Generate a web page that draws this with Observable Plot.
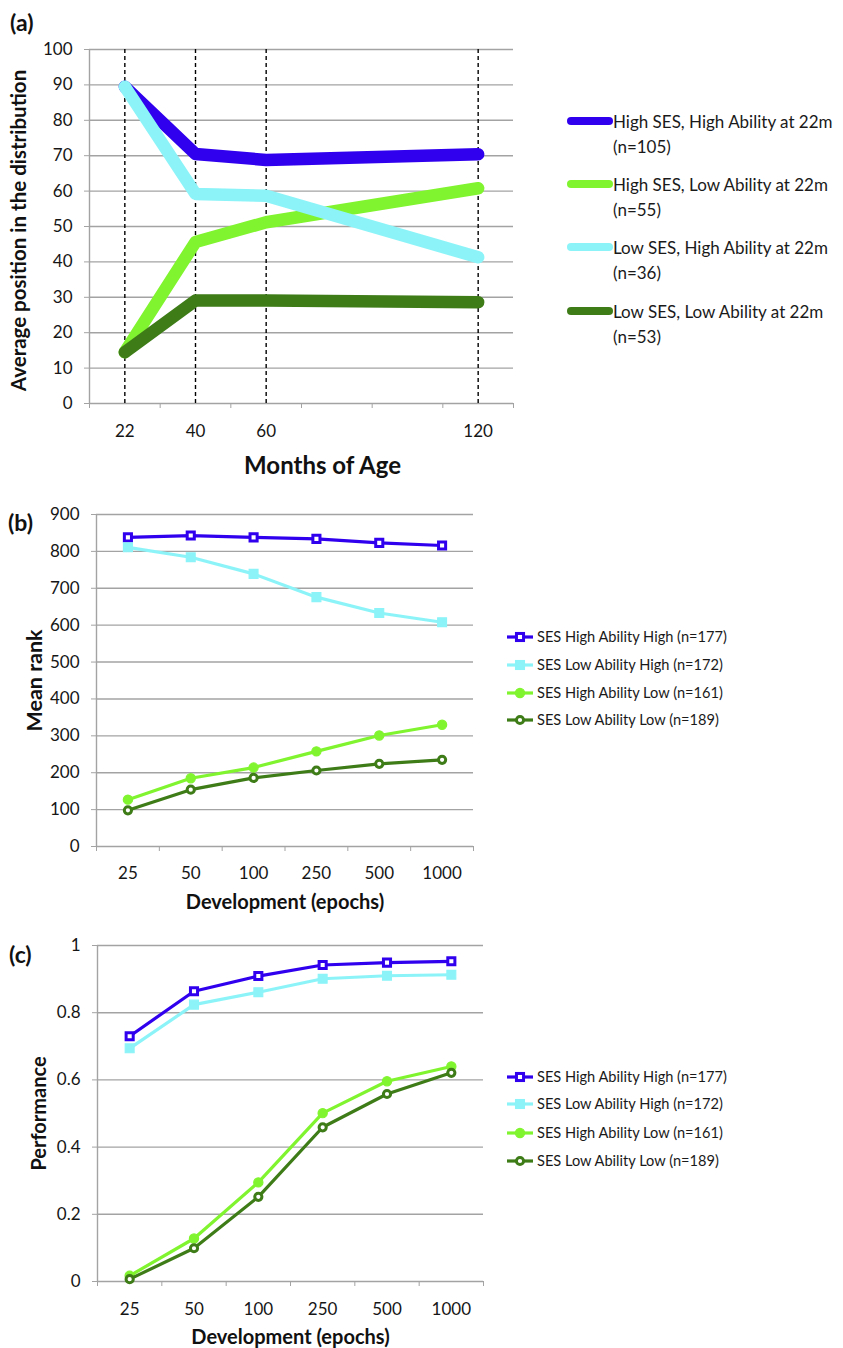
<!DOCTYPE html>
<html>
<head>
<meta charset="utf-8">
<script src="https://cdn.jsdelivr.net/npm/d3@7"></script>
<script src="https://cdn.jsdelivr.net/npm/@observablehq/plot@0.6"></script>
<style>
  html, body { margin: 0; padding: 0; background: #fff; overflow: hidden; }
  #page { position: relative; width: 843px; height: 1348px; font-family: Lato, "Open Sans", sans-serif; color: #1a1a1a; }
  .panel { position: absolute; left: 0; }
  .plabel { position: absolute; font-weight: bold; font-size: 23px; line-height: 1; color: #111; }
  .legend { position: absolute; color: #1a1a1a; }
  .entry { position: absolute; left: 0; white-space: nowrap; }
  .entry svg { position: absolute; left: 0; }
</style>
</head>
<body>
<div id="page"></div>
<script>
// ---------- Panel (a) data ----------
const xSlotsA = ["22", "40", "60", "", "", "120"];          // category slots on the x axis
const monthsA = ["22", "40", "60", "120"];                   // measured ages
const yTicksA = [0, 10, 20, 30, 40, 50, 60, 70, 80, 90, 100];
const legendA = ["High SES, High Ability at 22m", "High SES, Low Ability at 22m", "Low SES, High Ability at 22m", "Low SES, Low Ability at 22m"];
const nA = ["(n=105)", "(n=55)", "(n=36)", "(n=53)"];
const highSesHighAbilityA = [89.5, 70.5, 68.8, 70.4];
const highSesLowAbilityA  = [14.5, 45.6, 51.2, 60.8];
const lowSesHighAbilityA  = [89.5, 59.2, 58.7, 41.3];
const lowSesLowAbilityA   = [14.5, 29.1, 29.1, 28.6];

// ---------- Panels (b), (c) data ----------
const epochs = ["25", "50", "100", "250", "500", "1000"];
const yTicksB = [0, 100, 200, 300, 400, 500, 600, 700, 800, 900];
const yTicksC = [0, 0.2, 0.4, 0.6, 0.8, 1];
const legendBC = ["SES High Ability High (n=177)", "SES Low Ability High (n=172)", "SES High Ability Low (n=161)", "SES Low Ability Low (n=189)"];
const highHighB = [838, 843, 838, 834, 823, 816];
const lowHighB  = [811, 784, 739, 676, 633, 608];
const highLowB  = [127, 185, 214, 258, 301, 330];
const lowLowB   = [98, 154, 186, 206, 224, 235];
const highHighC = [0.730, 0.864, 0.909, 0.942, 0.949, 0.953];
const lowHighC  = [0.694, 0.824, 0.861, 0.901, 0.910, 0.913];
const highLowC  = [0.017, 0.128, 0.295, 0.501, 0.596, 0.640];
const lowLowC   = [0.007, 0.099, 0.252, 0.459, 0.558, 0.621];

// ---------- styles ----------
const BLUE = "#3000ee", CYAN = "#8cf4f8", LGREEN = "#80f42e", DGREEN = "#3e7c18";
const GRID = "#a3a3a3", TEXT = "#161616";
const FONT = "Lato, 'Open Sans', sans-serif";

const page = document.getElementById("page");
const slotX = (slots, label) => slots.indexOf(label) + 0.5;

function place(el, top, left) {
  el.classList.add("panel");
  el.style.top = top + "px";
  el.style.left = left + "px";
  page.appendChild(el);
}
function addLabel(txt, left, top) {
  const d = document.createElement("div");
  d.className = "plabel"; d.textContent = txt;
  d.style.left = left + "px"; d.style.top = top + "px";
  page.appendChild(d);
}

// ---------- Panel (a) ----------
const seriesA = [
  {vals: highSesHighAbilityA, color: BLUE},
  {vals: highSesLowAbilityA, color: LGREEN},
  {vals: lowSesHighAbilityA, color: CYAN},
  {vals: lowSesLowAbilityA, color: DGREEN}
];
const marksA = [
  Plot.gridY(yTicksA, {stroke: GRID, strokeOpacity: 1, strokeWidth: 1.4}),
  Plot.ruleX([0], {y1: 0, y2: 100, stroke: GRID, strokeWidth: 1.4}),
  Plot.ruleX(monthsA, {x: m => slotX(xSlotsA, m), y1: 0, y2: 100, stroke: "#000", strokeWidth: 1.4, strokeDasharray: "4,3"}),
  ...seriesA.map(s => Plot.line(monthsA.map((m, i) => ({x: slotX(xSlotsA, m), y: s.vals[i]})),
      {x: "x", y: "y", stroke: s.color, strokeWidth: 12.5, strokeLinecap: "round", strokeLinejoin: "round"})),
  Plot.axisY(yTicksA, {tickSize: 5, tickPadding: 12, stroke: GRID, fill: TEXT, fontSize: 17, label: null}),
  Plot.axisX(d3.range(0, 7), {tickSize: 5, tickFormat: () => "", stroke: GRID, label: null}),
  Plot.axisX(d3.range(0, 6).map(i => i + 0.5), {tickSize: 0, tickPadding: 21, tickFormat: d => xSlotsA[Math.floor(d)], fill: TEXT, fontSize: 17, label: null}),
  Plot.text(["Months of Age"], {frameAnchor: "bottom", dy: 63, dx: 21, fontSize: 24, fontWeight: "bold", fill: "#111", textAnchor: "middle", lineAnchor: "middle"}),
  Plot.text(["Average position in the distribution"], {frameAnchor: "left", dx: -70, dy: 4, rotate: -90, fontSize: 20.5, fontWeight: "bold", fill: "#111", textAnchor: "middle", lineAnchor: "middle"})
];
const plotA = Plot.plot({
  width: 545, height: 490,
  marginTop: 49, marginBottom: 87, marginLeft: 89, marginRight: 32,
  x: {type: "linear", domain: [0, 6]},
  y: {domain: [0, 100]},
  style: {fontFamily: FONT, fontSize: "17px", color: TEXT, background: "transparent", overflow: "visible"},
  marks: marksA
});
place(plotA, 0, 0);
addLabel("(a)", 10, 11);

// legend (a)
(function () {
  const lg = document.createElement("div");
  lg.className = "legend"; lg.style.left = "566px"; lg.style.top = "0px";
  const ys = [121, 184, 247, 311];
  seriesA.forEach((s, i) => {
    const e = document.createElement("div");
    e.className = "entry"; e.style.top = (ys[i] - 12) + "px";
    e.innerHTML = `<svg width="48" height="24" style="top:0"><line x1="5" y1="12" x2="43" y2="12" stroke="${s.color}" stroke-width="8" stroke-linecap="round"/></svg>
      <div style="margin-left:47px;font-size:17px;line-height:25px">${legendA[i]}<br>${nA[i]}</div>`;
    lg.appendChild(e);
  });
  page.appendChild(lg);
})();

// ---------- Panels (b) and (c) ----------
const markerStyles = [
  {color: BLUE,   symbol: "square", r: 4.0, fill: "#fff", sw: 3},
  {color: CYAN,   symbol: "square", r: 5.0, fill: CYAN,   sw: 1.2},
  {color: LGREEN, symbol: "circle", r: 4.6, fill: LGREEN, sw: 1.2},
  {color: DGREEN, symbol: "circle", r: 3.6, fill: "#fff", sw: 3}
];

function epochPanel({series, yDomain, yTicks, yLabel, yLabelSize, width, height, mt, mb, ml, mr, labelPad, titleDy, yTitleDx}) {
  const marks = [
    Plot.gridY(yTicks, {stroke: GRID, strokeOpacity: 1, strokeWidth: 1.4}),
    Plot.ruleX([0], {y1: yDomain[0], y2: yDomain[1], stroke: GRID, strokeWidth: 1.4})
  ];
  series.forEach((vals, k) => {
    const st = markerStyles[k];
    const rows = epochs.map((e, i) => ({x: slotX(epochs, e), y: vals[i]}));
    marks.push(Plot.line(rows, {x: "x", y: "y", stroke: st.color, strokeWidth: 3.2, strokeLinejoin: "round"}));
    marks.push(Plot.dot(rows, {x: "x", y: "y", symbol: st.symbol, r: st.r, fill: st.fill, stroke: st.color, strokeWidth: st.sw}));
  });
  marks.push(
    Plot.axisY(yTicks, {tickSize: 5, tickPadding: 12, stroke: GRID, fill: TEXT, fontSize: 17, label: null, tickFormat: d => String(d)}),
    Plot.axisX(d3.range(0, 7), {tickSize: 5, tickFormat: () => "", stroke: GRID, label: null}),
    Plot.axisX(d3.range(0, 6).map(i => i + 0.5), {tickSize: 0, tickPadding: labelPad, tickFormat: d => epochs[Math.floor(d)], fill: TEXT, fontSize: 17, label: null}),
    Plot.text(["Development (epochs)"], {frameAnchor: "bottom", dy: titleDy, fontSize: 20, fontWeight: "bold", fill: "#111", textAnchor: "middle", lineAnchor: "middle"}),
    Plot.text([yLabel], {frameAnchor: "left", dx: yTitleDx, rotate: -90, fontSize: yLabelSize, fontWeight: "bold", fill: "#111", textAnchor: "middle", lineAnchor: "middle"})
  );
  return Plot.plot({
    width, height, marginTop: mt, marginBottom: mb, marginLeft: ml, marginRight: mr,
    x: {type: "linear", domain: [0, 6]},
    y: {domain: yDomain},
    style: {fontFamily: FONT, fontSize: "17px", color: TEXT, background: "transparent", overflow: "visible"},
    marks
  });
}

function epochLegend(ys) {
  const lg = document.createElement("div");
  lg.className = "legend"; lg.style.left = "505px"; lg.style.top = "0px";
  markerStyles.forEach((st, i) => {
    const e = document.createElement("div");
    e.className = "entry"; e.style.top = (ys[i] - 11) + "px";
    const sym = st.symbol === "square"
      ? `<rect x="${15 - st.r * 0.886}" y="${11 - st.r * 0.886}" width="${st.r * 1.772}" height="${st.r * 1.772}" fill="${st.fill}" stroke="${st.color}" stroke-width="${st.sw}"/>`
      : `<circle cx="15" cy="11" r="${st.r}" fill="${st.fill}" stroke="${st.color}" stroke-width="${st.sw}"/>`;
    e.innerHTML = `<svg width="32" height="22" style="top:0"><line x1="2" y1="11" x2="28" y2="11" stroke="${st.color}" stroke-width="3.2"/>${sym}</svg>
      <div style="margin-left:32px;font-size:14.6px;line-height:22px">${legendBC[i]}</div>`;
    lg.appendChild(e);
  });
  page.appendChild(lg);
}

const plotB = epochPanel({
  series: [highHighB, lowHighB, highLowB, lowLowB],
  yDomain: [0, 900], yTicks: yTicksB, yLabel: "Mean rank", yLabelSize: 21.5,
  width: 480, height: 420, mt: 14, mb: 74, ml: 96, mr: 7,
  labelPad: 20, titleDy: 56, yTitleDx: -61
});
place(plotB, 500, 0);
addLabel("(b)", 8, 511);
epochLegend([637, 665, 693, 720]);

const plotC = epochPanel({
  series: [highHighC, lowHighC, highLowC, lowLowC],
  yDomain: [0, 1], yTicks: yTicksC, yLabel: "Performance", yLabelSize: 20,
  width: 490, height: 418, mt: 15, mb: 67, ml: 97, mr: 7,
  labelPad: 21, titleDy: 56, yTitleDx: -58
});
place(plotC, 930, 0);
addLabel("(c)", 9, 943);
epochLegend([1077, 1104, 1133, 1161]);
</script>
</body>
</html>
